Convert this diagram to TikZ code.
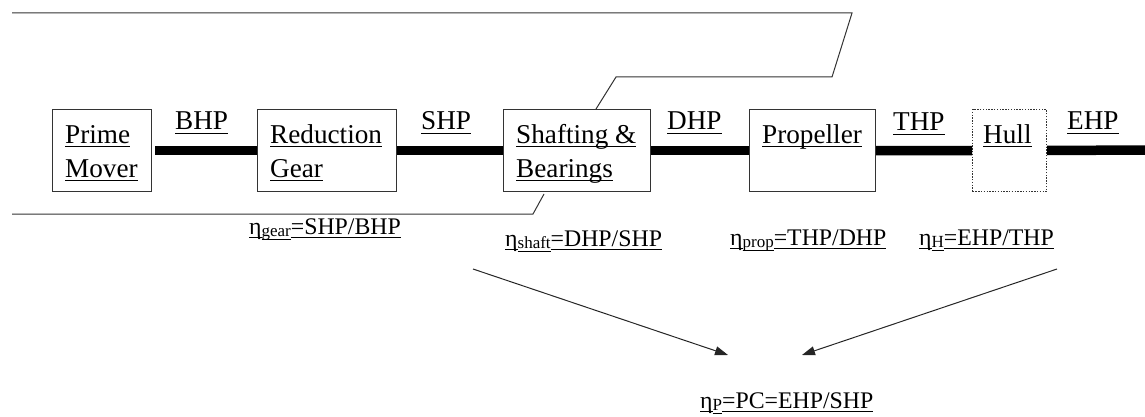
\documentclass[tikz,border=0pt]{standalone}
\usepackage{fontspec}
\setmainfont{Liberation Serif}
\usetikzlibrary{arrows.meta}
\newcommand\ulx[1]{\setbox0\hbox{#1}\rlap{\rule[-3.6pt]{\wd0}{1.1pt}}\box0}
\newcommand\subx[1]{\raisebox{-2.8pt}{\fontsize{17}{20}\selectfont\ulx{#1}}}
\begin{document}
\begin{tikzpicture}[x=1pt,y=-1pt,
  box/.style={draw=black!80, line width=1.2pt, inner sep=0pt, minimum height=82pt, anchor=north west},
  hullbox/.style={box, dash pattern=on 1.4pt off 1.4pt, line width=1pt},
  txt/.style={anchor=base west, inner sep=0pt, font=\fontsize{27.2}{34}\selectfont},
  eqn/.style={anchor=base west, inner sep=0pt, font=\fontsize{23.8}{30}\selectfont},
  bar/.style={line width=9.5pt, black},
  frame/.style={draw=black!80, line width=1pt},
  arr/.style={draw=black!85, line width=1pt, -{Triangle[length=13pt,width=9pt]}}]
\useasboundingbox (0,0) rectangle (1145,417);
% boxes
\node[box, minimum width=99pt]  (pm) at (52,109) {};
\node[box, minimum width=139pt] (rg) at (257,109) {};
\node[box, minimum width=147pt] (sb) at (503,109) {};
\node[box, minimum width=126pt] (pr) at (749,109) {};
\node[hullbox, minimum width=74pt] (hu) at (972,109) {};
% box texts
\node[txt] (pm1) at (65,143) {\ulx{Prime}};
\node[txt] (pm2) at (65,177) {\ulx{Mover}};
\node[txt] (rg1) at (270,143) {\ulx{Reduction}};
\node[txt] (rg2) at (270,177) {\ulx{Gear}};
\node[txt] (sb1) at (516,143) {\ulx{Shafting \&}};
\node[txt] (sb2) at (516,177) {\ulx{Bearings}};
\node[txt] (pr1) at (762,143) {\ulx{Propeller}};
\node[txt] (hu1) at (983,143) {\ulx{Hull}};
% power labels
\node[txt] (bhp) at (175,130) {\ulx{BHP}};
\node[txt] (shp) at (421,130) {\ulx{SHP}};
\node[txt] (dhp) at (667,130) {\ulx{DHP}};
\node[txt] (thp) at (893,131) {\ulx{THP}};
\node[txt] (ehp) at (1067,130) {\ulx{EHP}};
% shafts
\coordinate (endR) at (1145,150);
\draw[bar] ([xshift=3pt]pm.east) -- (rg.west);
\draw[bar] (rg.east) -- (sb.west);
\draw[bar] (sb.east) -- (pr.west);
\draw[bar] (pr.east) -- (hu.west);
\draw[bar] (hu.east) -- (endR);
% control-volume lines
\coordinate (ft) at (596,109);
\coordinate (fb) at (544,194);
\draw[frame] (12,13) -- (852,13) -- (832,77) -- (616,77) -- (ft);
\draw[frame] (12,214) -- (533,214) -- (fb);
% efficiencies
\node[eqn] (eg) at (249,234) {\ulx{η}\subx{gear}\ulx{=SHP/BHP}};
\node[eqn] (es) at (505,246) {\ulx{η}\subx{shaft}\ulx{=DHP/SHP}};
\node[eqn] (ep) at (730,245) {\ulx{η}\subx{prop}\ulx{=THP/DHP}};
\node[eqn] (eh) at (919,245) {\ulx{η}\subx{H}\ulx{=EHP/THP}};
\node[eqn] (epc) at (700,408) {\ulx{η}\subx{P}\ulx{=PC=EHP/SHP}};
% arrows
\coordinate (a1s) at (473,269);
\coordinate (a1e) at (728,355);
\coordinate (a2s) at (1057,269);
\coordinate (a2e) at (802,355);
\draw[arr] (a1s) -- (a1e);
\draw[arr] (a2s) -- (a2e);
\end{tikzpicture}
\end{document}
